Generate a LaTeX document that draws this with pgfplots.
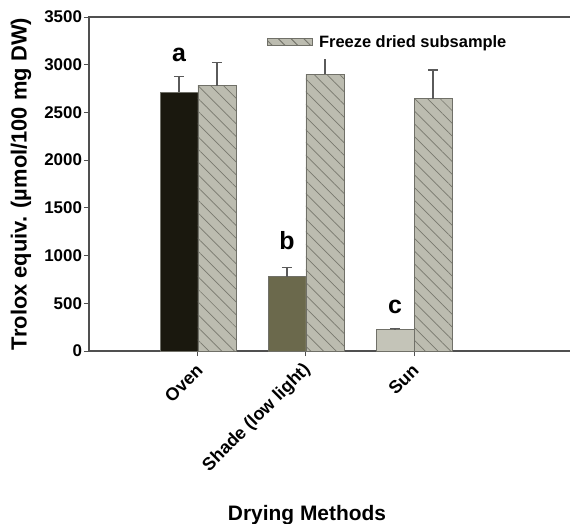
\documentclass[border=0pt]{standalone}
\usepackage{fontspec}
\setmainfont{Liberation Sans}
\usepackage{pgfplots}
\pgfplotsset{compat=1.18}
\usetikzlibrary{patterns.meta}

\definecolor{ovenblack}{HTML}{1A180E}
\definecolor{shadeolive}{HTML}{6B694C}
\definecolor{sungray}{HTML}{C4C4B8}
\definecolor{hatchfill}{HTML}{BCBCB0}
\definecolor{hatchline}{HTML}{78786E}
\definecolor{barline}{HTML}{707068}
\definecolor{axisgray}{HTML}{505050}
\definecolor{errgray}{HTML}{5A5A5A}

\tikzset{
  hatched/.style={fill=hatchfill, draw=barline, line width=0.8bp,
    postaction={pattern={Lines[angle=-45,distance=9bp,line width=0.7bp]}, pattern color=hatchline}},
}

% bars sit half a bar width (19bp = 0.1759 x-units) each side of the tick
\begin{document}
\begin{tikzpicture}
\begin{axis}[
  scale only axis,
  width=484bp, height=334bp,
  xmin=-0.009, xmax=4.472,
  ymin=0, ymax=3500,
  ytick={0,500,...,3500},
  xtick={1,2,3},
  xticklabels={Oven, Shade (low light), Sun},
  xtick pos=bottom, ytick pos=left,
  tick align=outside,
  major tick length=5bp,
  axis line style={axisgray, line width=1.2bp},
  tick style={axisgray, line width=1bp},
  /pgf/number format/assume math mode=true,
  /pgf/number format/1000 sep={},
  yticklabel style={font=\bfseries\fontsize{17}{18}\selectfont, xshift=1.5bp},
  xticklabel style={font=\bfseries\fontsize{18}{19}\selectfont, xshift=4bp, rotate=45, anchor=east},
  xticklabel shift=9bp,
  ylabel={Trolox equiv. (µmol/100 mg DW)},
  ylabel style={at={(axis description cs:-0.1405,0.5)}, anchor=center,
    font=\bfseries\fontsize{22}{22}\selectfont},
  xlabel={Drying Methods},
  xlabel style={at={(axis description cs:0.4504,-0.506)}, anchor=base,
    font=\bfseries\fontsize{21}{22}\selectfont},
  legend style={at={(axis description cs:0.368,0.925)}, anchor=west,
    draw=none, fill=white, inner xsep=0bp, inner ysep=8bp, column sep=4bp,
    font=\bfseries\fontsize{16.5}{17}\selectfont},
  legend image code/.code={
    \path[hatched] (0bp,-3.5bp) rectangle (45bp,3.5bp);
  },
  error bars/y dir=plus,
  error bars/y explicit,
  error bars/error bar style={errgray, line width=1.2bp},
  error bars/error mark options={rotate=90, mark size=5bp, errgray, line width=1.2bp},
]
% fresh samples, one colour per method
\addplot[ybar, bar width=38bp, bar shift=0pt, fill=ovenblack, draw=barline, line width=0.8bp, forget plot]
  coordinates {(0.8241,2710) +- (0,165)};
\addplot[ybar, bar width=38bp, bar shift=0pt, fill=shadeolive, draw=barline, line width=0.8bp, forget plot]
  coordinates {(1.8241,780) +- (0,97)};
\addplot[ybar, bar width=38bp, bar shift=0pt, fill=sungray, draw=barline, line width=0.8bp, forget plot]
  coordinates {(2.8241,225) +- (0,15)};
% freeze dried subsample
\addplot[ybar, bar width=38bp, bar shift=0pt, hatched]
  coordinates {(1.1759,2780) +- (0,245) (2.1759,2900) +- (0,180) (3.1759,2645) +- (0,300)};
\addlegendentry{Freeze dried subsample}

\node[anchor=base, font=\bfseries\fontsize{25}{25}\selectfont] at (axis cs:0.8241,3030) {a};
\node[anchor=base, font=\bfseries\fontsize{25}{25}\selectfont] at (axis cs:1.8241,1059) {b};
\node[anchor=base, font=\bfseries\fontsize{25}{25}\selectfont] at (axis cs:2.8241,398) {c};
\end{axis}
\pgfresetboundingbox
\path[use as bounding box] (-89bp,-173bp) rectangle (481bp,351bp);
\end{tikzpicture}
\end{document}
